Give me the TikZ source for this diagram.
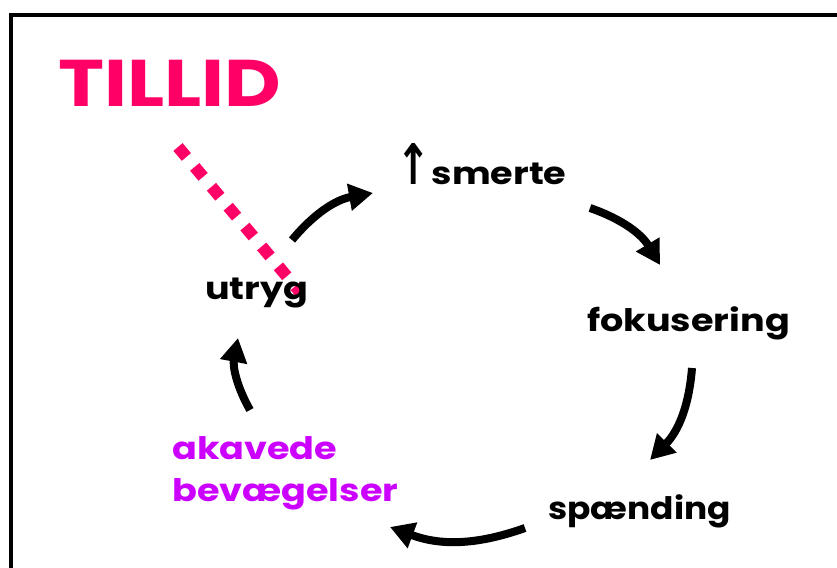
\documentclass[tikz,border=0pt]{standalone}
\usepackage{fontspec}
\setmainfont{Poppins}
\newfontfamily\symfont{DejaVu Sans}
\usepackage{xcolor}
\usetikzlibrary{arrows.meta,positioning,backgrounds}
\definecolor{tillidpink}{RGB}{255,0,102}
\definecolor{akavedepurple}{RGB}{204,0,255}

\begin{document}
\begin{tikzpicture}[x=1pt, y=1pt, lbl/.style={inner sep=0pt, anchor=base west, xscale=1.18, font=\fontsize{31}{42}\selectfont\bfseries}, cyc/.style={line width=8pt, -{Triangle[length=24pt,width=26pt]}, bend left=20}]
\useasboundingbox (0,0) rectangle (837,567);
\draw[line width=4pt] (11,-20) rectangle (850,552);
\node[lbl,text=tillidpink,font=\fontsize{66}{70}\selectfont\bfseries](tillid) at (58,460){TILLID};
\node[lbl](smerte) at (396,382){{\symfont\bfseries\fontsize{56}{56}\selectfont\scalebox{0.62}[1]{↑}}\hspace{1pt}smerte};
\node[lbl](fokus) at (587,235){fokusering};
\node[lbl,xscale=0.94](spaend) at (548,47){spænding};
\node[lbl](utryg) at (205,267){utryg};
\node[lbl,text=akavedepurple,align=left,anchor=north west](akavede) at (172,131){akavede\\bevægelser};
\begin{scope}[on background layer]
\draw[tillidpink,line width=12pt,dash pattern=on 13pt off 13pt]([shift={(120,-40)}]tillid.base west)--([shift={(95,8)}]utryg.base west);
\end{scope}
\draw[cyc]([shift={(87,60)}]utryg.base west) to ([shift={(-23,-8)}]smerte.base west);
\draw[cyc]([shift={(194,-23)}]smerte.base west) to ([shift={(73,67)}]fokus.base west);
\draw[cyc]([shift={(105,-36)}]fokus.base west) to ([shift={(102,60)}]spaend.base west);
\draw[cyc]([shift={(-23,-8)}]spaend.base west) to ([shift={(218,-91)}]akavede.north west);
\draw[cyc]([shift={(78,26)}]akavede.north west) to ([shift={(33,-38)}]utryg.base west);
\end{tikzpicture}
\end{document}
